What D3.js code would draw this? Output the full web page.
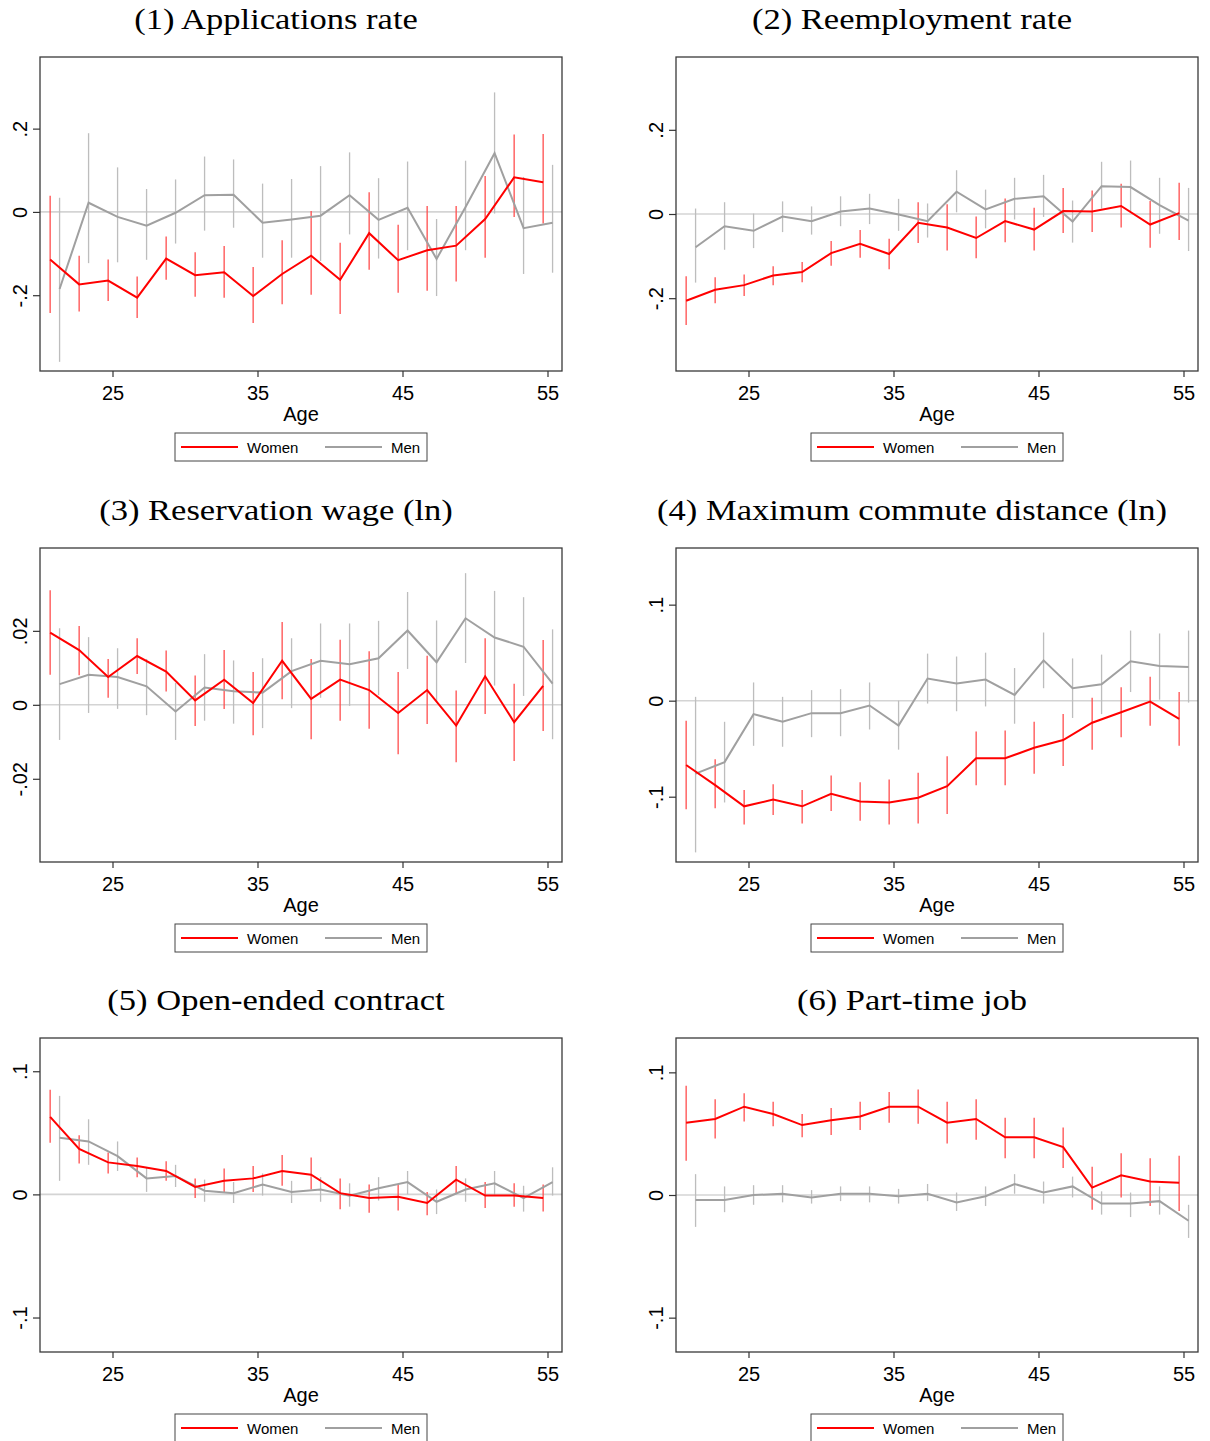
<!DOCTYPE html>
<html>
<head>
<meta charset="utf-8">
<script src="https://cdn.jsdelivr.net/npm/d3@7"></script>
<style>
  body { margin: 0; background: #fff; }
  svg { display: block; }
  .title { font-family: "Liberation Serif", "DejaVu Serif", serif; font-size: 29px; fill: #000; }
  .axis text { font-family: "Liberation Sans", Arial, sans-serif; font-size: 20px; fill: #000; }
  .axis path { display: none; }
  .axis line { stroke: #333; stroke-width: 1.2; }
  .xlab { font-family: "Liberation Sans", Arial, sans-serif; font-size: 20px; fill: #000; }
  .legend text { font-family: "Liberation Sans", Arial, sans-serif; font-size: 15px; fill: #000; }
</style>
</head>
<body>
<svg width="1210" height="1441"></svg>
<script>
// age groups (women plotted slightly left, men slightly right)
const ages = [21, 23, 25, 27, 29, 31, 33, 35, 37, 39, 41, 43, 45, 47, 49, 51, 53, 55];
const xTicks = [25, 35, 45, 55];

const titles = [
  "(1) Applications rate",
  "(2) Reemployment rate",
  "(3) Reservation wage (ln)",
  "(4) Maximum commute distance (ln)",
  "(5) Open-ended contract",
  "(6) Part-time job",
];

// (1) applications rate
const appW = [-0.114,-0.174,-0.165,-0.206,-0.112,-0.152,-0.145,-0.202,-0.149,-0.105,-0.163,-0.051,-0.116,-0.092,-0.081,-0.017,0.083,0.071];
const appWLo = [-0.243,-0.239,-0.214,-0.255,-0.163,-0.204,-0.206,-0.267,-0.222,-0.199,-0.245,-0.139,-0.194,-0.189,-0.167,-0.110,-0.012,-0.028];
const appWHi = [0.039,-0.105,-0.114,-0.155,-0.059,-0.097,-0.082,-0.132,-0.068,0.002,-0.074,0.047,-0.031,0.014,0.014,0.086,0.186,0.187];
const appM = [-0.185,0.022,-0.012,-0.033,-0.002,0.040,0.041,-0.026,-0.018,-0.009,0.040,-0.019,0.010,-0.113,0.012,0.141,-0.039,-0.026];
const appMLo = [-0.360,-0.123,-0.121,-0.115,-0.076,-0.045,-0.038,-0.110,-0.110,-0.118,-0.054,-0.112,-0.092,-0.202,-0.092,-0.004,-0.149,-0.146];
const appMHi = [0.034,0.189,0.107,0.055,0.078,0.133,0.126,0.068,0.079,0.110,0.143,0.081,0.121,-0.017,0.123,0.287,0.084,0.113];

// (2) reemployment rate
const reW = [-0.206,-0.180,-0.169,-0.146,-0.138,-0.093,-0.071,-0.095,-0.021,-0.032,-0.057,-0.017,-0.037,0.007,0.006,0.019,-0.025,0.002];
const reWLo = [-0.264,-0.212,-0.195,-0.169,-0.162,-0.123,-0.104,-0.131,-0.069,-0.087,-0.105,-0.067,-0.087,-0.045,-0.043,-0.032,-0.080,-0.062];
const reWHi = [-0.148,-0.150,-0.144,-0.124,-0.114,-0.064,-0.038,-0.059,0.028,0.023,-0.006,0.037,0.015,0.062,0.056,0.072,0.031,0.074];
const reM = [-0.079,-0.029,-0.040,-0.006,-0.017,0.006,0.013,-0.001,-0.017,0.053,0.011,0.036,0.042,-0.018,0.066,0.064,0.021,-0.016];
const reMLo = [-0.163,-0.085,-0.081,-0.043,-0.049,-0.029,-0.024,-0.040,-0.056,0.004,-0.034,-0.013,-0.007,-0.068,0.013,0.007,-0.047,-0.088];
const reMHi = [0.013,0.028,0.001,0.030,0.018,0.042,0.048,0.036,0.025,0.104,0.058,0.086,0.093,0.032,0.124,0.127,0.086,0.062];

// (3) reservation wage
const wW = [0.0195,0.0148,0.0075,0.0132,0.0090,0.0012,0.0068,0.0005,0.0119,0.0016,0.0068,0.0040,-0.0022,0.0040,-0.0056,0.0077,-0.0047,0.0051];
const wWLo = [0.0081,0.0080,0.0019,0.0083,0.0036,-0.0057,-0.0011,-0.0082,0.0015,-0.0093,-0.0043,-0.0065,-0.0134,-0.0052,-0.0155,-0.0025,-0.0152,-0.0071];
const wWHi = [0.0310,0.0213,0.0124,0.0180,0.0147,0.0079,0.0148,0.0089,0.0224,0.0124,0.0176,0.0145,0.0089,0.0133,0.0039,0.0180,0.0057,0.0175];
const wM = [0.0056,0.0081,0.0075,0.0050,-0.0018,0.0047,0.0037,0.0033,0.0091,0.0119,0.0110,0.0126,0.0201,0.0115,0.0234,0.0182,0.0157,0.0057];
const wMLo = [-0.0095,-0.0022,-0.0011,-0.0028,-0.0095,-0.0043,-0.0051,-0.0063,-0.0009,0.0019,-0.0003,0.0026,0.0097,0.0009,0.0113,0.0052,0.0024,-0.0093];
const wMHi = [0.0207,0.0183,0.0153,0.0124,0.0059,0.0137,0.0120,0.0126,0.0180,0.0220,0.0220,0.0227,0.0305,0.0228,0.0356,0.0308,0.0291,0.0204];

// (4) maximum commute distance
const cW = [-0.067,-0.088,-0.110,-0.103,-0.110,-0.097,-0.105,-0.106,-0.101,-0.089,-0.060,-0.060,-0.049,-0.041,-0.023,-0.012,-0.001,-0.019];
const cWLo = [-0.113,-0.112,-0.129,-0.119,-0.128,-0.115,-0.125,-0.129,-0.128,-0.118,-0.088,-0.088,-0.076,-0.068,-0.051,-0.038,-0.026,-0.047];
const cWHi = [-0.021,-0.061,-0.093,-0.087,-0.093,-0.078,-0.085,-0.082,-0.075,-0.058,-0.032,-0.031,-0.022,-0.014,0.003,0.014,0.025,0.009];
const cM = [-0.076,-0.064,-0.014,-0.022,-0.013,-0.013,-0.005,-0.026,0.023,0.018,0.022,0.006,0.042,0.013,0.017,0.041,0.036,0.035];
const cMLo = [-0.158,-0.106,-0.047,-0.048,-0.038,-0.037,-0.030,-0.051,-0.003,-0.011,-0.006,-0.024,0.013,-0.018,-0.014,0.009,0.001,-0.002];
const cMHi = [0.004,-0.022,0.019,0.004,0.011,0.012,0.019,0.000,0.049,0.046,0.050,0.034,0.071,0.044,0.048,0.073,0.070,0.073];

// (5) open-ended contract
const oW = [0.063,0.037,0.026,0.023,0.019,0.006,0.011,0.013,0.019,0.016,0.001,-0.003,-0.002,-0.007,0.012,-0.001,-0.001,-0.003];
const oWLo = [0.042,0.025,0.017,0.014,0.011,-0.003,0.002,0.002,0.007,0.004,-0.012,-0.015,-0.013,-0.017,0.001,-0.011,-0.010,-0.014];
const oWHi = [0.085,0.048,0.034,0.030,0.027,0.013,0.021,0.023,0.032,0.030,0.013,0.008,0.008,0.002,0.023,0.010,0.009,0.008];
const oM = [0.046,0.043,0.031,0.013,0.015,0.003,0.001,0.008,0.002,0.004,-0.001,0.005,0.010,-0.006,0.004,0.009,-0.003,0.010];
const oMLo = [0.011,0.024,0.019,0.002,0.006,-0.006,-0.007,-0.001,-0.007,-0.006,-0.010,-0.005,0.000,-0.016,-0.006,-0.001,-0.014,-0.001];
const oMHi = [0.080,0.061,0.043,0.022,0.024,0.012,0.010,0.017,0.011,0.014,0.009,0.014,0.019,0.004,0.013,0.019,0.007,0.022];

// (6) part-time job
const pW = [0.059,0.062,0.072,0.066,0.057,0.061,0.064,0.072,0.072,0.059,0.062,0.047,0.047,0.039,0.006,0.016,0.011,0.010];
const pWLo = [0.028,0.046,0.060,0.056,0.047,0.049,0.053,0.059,0.058,0.042,0.045,0.030,0.030,0.022,-0.012,-0.002,-0.009,-0.013];
const pWHi = [0.089,0.078,0.083,0.076,0.066,0.071,0.076,0.084,0.086,0.076,0.078,0.063,0.063,0.055,0.023,0.034,0.030,0.032];
const pM = [-0.004,-0.004,0.000,0.001,-0.002,0.001,0.001,-0.001,0.001,-0.006,-0.001,0.009,0.002,0.007,-0.007,-0.007,-0.005,-0.021];
const pMLo = [-0.026,-0.014,-0.008,-0.006,-0.007,-0.005,-0.006,-0.007,-0.005,-0.013,-0.009,0.001,-0.007,-0.002,-0.016,-0.018,-0.016,-0.035];
const pMHi = [0.017,0.007,0.008,0.008,0.004,0.007,0.007,0.005,0.009,0.002,0.007,0.017,0.011,0.015,0.003,0.002,0.007,-0.008];

const yTicks = [
  [-0.2, 0, 0.2], [-0.2, 0, 0.2], [-0.02, 0, 0.02],
  [-0.1, 0, 0.1], [-0.1, 0, 0.1], [-0.1, 0, 0.1],
];
const yDomains = [
  [-0.382, 0.372], [-0.373, 0.373], [-0.0425, 0.0424],
  [-0.168, 0.159], [-0.128, 0.127], [-0.128, 0.128],
];

const panels = [
  { w: appW, wLo: appWLo, wHi: appWHi, m: appM, mLo: appMLo, mHi: appMHi },
  { w: reW, wLo: reWLo, wHi: reWHi, m: reM, mLo: reMLo, mHi: reMHi },
  { w: wW, wLo: wWLo, wHi: wWHi, m: wM, mLo: wMLo, mHi: wMHi },
  { w: cW, wLo: cWLo, wHi: cWHi, m: cM, mLo: cMLo, mHi: cMHi },
  { w: oW, wLo: oWLo, wHi: oWHi, m: oM, mLo: oMLo, mHi: oMHi },
  { w: pW, wLo: pWLo, wHi: pWHi, m: pM, mLo: pMLo, mHi: pMHi },
];

const colLeft = [40, 676];
const rowTop = [57, 548, 1038];
const pw = 522, ph = 314;
const red = "#ff0000", redCI = "#ff4d4d", grey = "#a0a0a0", greyCI = "#bdbdbd";

const svg = d3.select("svg");

// stata style labels: ".2", "-.02", "0"
const fmtY = (v) => (v === 0 ? "0" : String(v).replace("0.", "."));

panels.forEach((p, i) => {
  const left = colLeft[i % 2], top = rowTop[Math.floor(i / 2)];
  const g = svg.append("g").attr("transform", `translate(${left},${top})`);

  const x = d3.scaleLinear().domain([20, 56]).range([0, pw]);
  const y = d3.scaleLinear().domain(yDomains[i]).range([ph, 0]);

  // title is centred over the whole graph (incl. y labels), not the plot box
  const t = g.append("text")
    .attr("class", "title")
    .attr("x", pw / 2 - 25)
    .attr("y", -28)
    .attr("text-anchor", "middle")
    .text(titles[i]);
  // the original title face is wider than Times; stretch to match
  const tl = t.node().getComputedTextLength();
  t.attr("textLength", tl * 1.19).attr("lengthAdjust", "spacingAndGlyphs");

  // zero reference line
  g.append("line")
    .attr("x1", 0).attr("x2", pw)
    .attr("y1", y(0)).attr("y2", y(0))
    .attr("stroke", "#d4d4d4").attr("stroke-width", 1.6);

  const women = ages.map((a, k) => ({ x: a - 0.3, v: p.w[k], lo: p.wLo[k], hi: p.wHi[k] }));
  const men = ages.map((a, k) => ({ x: a + 0.35, v: p.m[k], lo: p.mLo[k], hi: p.mHi[k] }));

  const line = d3.line().x((d) => x(d.x)).y((d) => y(d.v));

  [[men, greyCI], [women, redCI]].forEach(([data, col]) => {
    g.append("g").selectAll("line")
      .data(data)
      .enter()
      .append("line")
      .attr("x1", (d) => x(d.x)).attr("x2", (d) => x(d.x))
      .attr("y1", (d) => y(d.lo)).attr("y2", (d) => y(d.hi))
      .attr("stroke", col).attr("stroke-width", 1.3);
  });

  g.append("path").datum(men).attr("d", line)
    .attr("fill", "none").attr("stroke", grey).attr("stroke-width", 2);
  g.append("path").datum(women).attr("d", line)
    .attr("fill", "none").attr("stroke", red).attr("stroke-width", 2);

  // frame
  g.append("rect")
    .attr("width", pw).attr("height", ph)
    .attr("fill", "none").attr("stroke", "#3a3a3a").attr("stroke-width", 1.3);

  g.append("g")
    .attr("class", "axis")
    .attr("transform", `translate(0,${ph})`)
    .call(d3.axisBottom(x).tickValues(xTicks).tickSize(6).tickFormat(d3.format("d")))
    .selectAll("text")
    .attr("y", 29).attr("dy", 0);

  g.append("g")
    .attr("class", "axis")
    .call(d3.axisLeft(y).tickValues(yTicks[i]).tickSize(7).tickFormat(fmtY))
    .selectAll("text")
    .attr("transform", "rotate(-90)")
    .attr("text-anchor", "middle")
    .attr("x", 0).attr("y", -13).attr("dy", 0);

  g.append("text")
    .attr("class", "xlab")
    .attr("x", pw / 2)
    .attr("y", ph + 50)
    .attr("text-anchor", "middle")
    .text("Age");

  const lg = g.append("g").attr("class", "legend").attr("transform", `translate(135,${ph + 62})`);
  lg.append("rect").attr("width", 252).attr("height", 28)
    .attr("fill", "#fff").attr("stroke", "#444").attr("stroke-width", 1);
  const items = [
    { name: "Women", col: red, x: 6 },
    { name: "Men", col: grey, x: 150 },
  ];
  items.forEach((it) => {
    lg.append("line").attr("x1", it.x).attr("x2", it.x + 57)
      .attr("y1", 14).attr("y2", 14)
      .attr("stroke", it.col).attr("stroke-width", 2);
    lg.append("text").attr("x", it.x + 66).attr("y", 19.5).text(it.name);
  });
});
</script>
</body>
</html>
